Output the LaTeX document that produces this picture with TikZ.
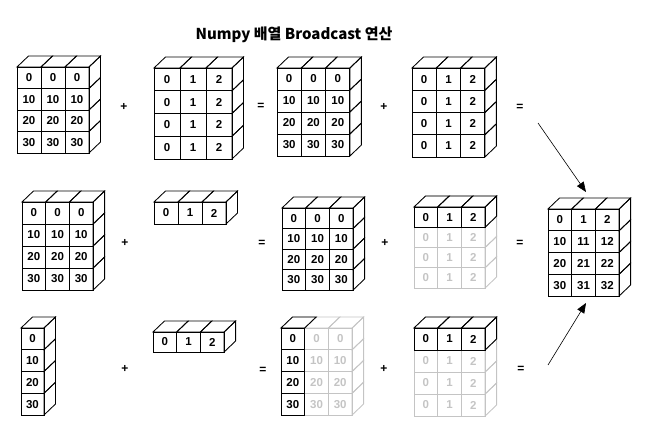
\documentclass[tikz,border=0pt]{standalone}
\usepackage{fontspec}
\setmainfont{Liberation Sans}
\newfontfamily\krfont{Noto Sans CJK KR}
\usetikzlibrary{arrows.meta}
\definecolor{fade}{RGB}{196,196,196}
\def\dx{11.5}
\def\dy{-11}
\tikzset{
  rface/.style={},
  cell/.style={font=\bfseries\fontsize{11.5}{12}\selectfont, inner sep=0pt},
  op/.style={font=\bfseries\fontsize{12}{13}\selectfont, inner sep=1pt},
  faded/.style={color=fade},
  arrowline/.style={-{Triangle[length=10pt,width=8pt]}, line width=0.6pt},
}
% #1 name, #2 x0, #3 y0, #4 w, #5 h, #6 cols, #7 rows, #8 style, #9 values
\newcommand\gridbox[9]{%
 \begin{scope}[#8]
  \foreach \c in {1,...,#6} {\draw ({#2+(\c-1)*#4},#3) -- ++(\dx,\dy) -- ++(#4,0) -- ++(-\dx,-\dy) -- cycle;}
  \foreach \r in {1,...,#7} {\draw[rface] ({#2+#6*#4},{#3+(\r-1)*#5}) -- ++(\dx,\dy) -- ++(0,#5) -- ++(-\dx,-\dy) -- cycle;}
  \foreach \r in {1,...,#7} {\foreach \c in {1,...,#6} {\draw ({#2+(\c-1)*#4},{#3+(\r-1)*#5}) rectangle ++(#4,#5);}}
  \foreach \v [count=\i from 0] in {#9} {%
    \ifx\v\empty\else
    \pgfmathtruncatemacro\cc{mod(\i,#6)}%
    \pgfmathtruncatemacro\rr{int(\i/#6)}%
    \node[cell] (#1-\i) at ({#2+(\cc+0.5)*#4},{#3+(\rr+0.5)*#5}) {\v};
    \fi
  }
 \end{scope}}
\begin{document}
\begin{tikzpicture}[x=1pt,y=-1pt,line width=0.85pt]
\useasboundingbox (0,0) rectangle (657,444);
\node[font=\krfont\bfseries\fontsize{15}{17}\selectfont] (title) at (294,35) {Numpy 배열 Broadcast 연산};

% row 1
\gridbox{ga}{17}{67}{24}{21.5}{3}{4}{}{0,0,0,10,10,10,20,20,20,30,30,30}
\node[op] (p1) at (124,107) {+};
\gridbox{gb}{154}{68}{26}{22.75}{3}{4}{}{0,1,2,0,1,2,0,1,2,0,1,2}
\node[op] (e1) at (261,106) {=};
\gridbox{gc}{277}{68}{24.3}{22}{3}{4}{}{0,0,0,10,10,10,20,20,20,30,30,30}
\node[op] (q1) at (384,107) {+};
\gridbox{gd}{412}{68}{24.3}{22.25}{3}{4}{}{0,1,2,0,1,2,0,1,2,0,1,2}
\node[op] (f1) at (520,107) {=};

% row 2
\gridbox{ha}{22}{202}{23.7}{22}{3}{4}{}{0,0,0,10,10,10,20,20,20,30,30,30}
\node[op] (p2) at (125,243) {+};
\gridbox{hb}{154}{202}{24}{22}{3}{1}{}{0,1,2}
\node[op] (e2) at (262,243) {=};
\gridbox{hc}{282}{208}{23.7}{20.5}{3}{4}{}{0,0,0,10,10,10,20,20,20,30,30,30}
\node[op] (q2) at (385,243) {+};
\gridbox{hd}{414}{207}{23.7}{20.25}{3}{4}{faded}{,,,0,1,2,0,1,2,0,1,2}
\gridbox{hdk}{414}{207}{23.7}{20.25}{3}{1}{}{0,1,2}
\node[op] (f2) at (520,243) {=};

% row 3
\gridbox{ia}{21}{328}{23}{21.75}{1}{4}{}{0,10,20,30}
\node[op] (p3) at (125,369) {+};
\gridbox{ib}{153}{332}{23.7}{20}{3}{1}{}{0,1,2}
\node[op] (e3) at (263,370) {=};
\gridbox{ic}{281}{328}{23.7}{21.75}{3}{4}{faded}{,0,0,,10,10,,20,20,,30,30}
\gridbox{ick}{281}{328}{23.7}{21.75}{1}{4}{rface/.style={draw=none}}{0,10,20,30}
\node[op] (q3) at (384,369) {+};
\gridbox{id}{414}{328}{23.7}{22}{3}{4}{faded}{,,,0,1,2,0,1,2,0,1,2}
\gridbox{idk}{414}{328}{23.7}{22}{3}{1}{}{0,1,2}
\node[op] (f3) at (521,369) {=};

% result
\gridbox{r}{548}{209}{23.7}{21.75}{3}{4}{}{0,1,2,10,11,12,20,21,22,30,31,32}

\coordinate (a1s) at (538,123);
\coordinate (rtop) at (586,192);
\coordinate (a3s) at (548,365);
\coordinate (rbot) at (586,303);
\draw[arrowline] (a1s) -- (rtop);
\draw[arrowline] (a3s) -- (rbot);
\end{tikzpicture}
\end{document}
